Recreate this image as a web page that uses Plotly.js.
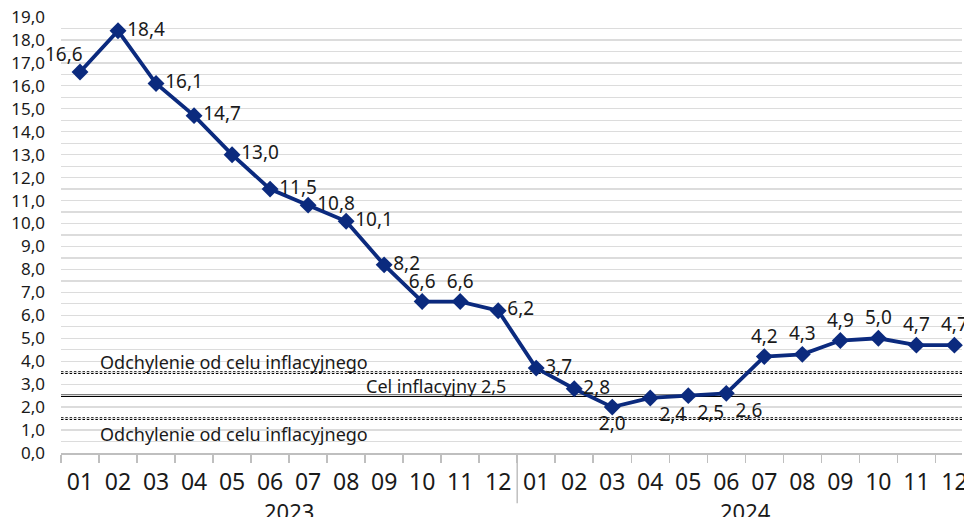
<!DOCTYPE html>
<html>
<head>
<meta charset="utf-8">
<script src="https://cdn.plot.ly/plotly-3.0.1.min.js"></script>
<style>html,body{margin:0;padding:0;background:#fff;} #chart{width:964px;height:517px;}</style>
</head>
<body>
<div id="chart"></div>
<script>
const years = ["2023","2024"];
const months = ["01","02","03","04","05","06","07","08","09","10","11","12",
                "01","02","03","04","05","06","07","08","09","10","11","12"];
const inflation = [16.6,18.4,16.1,14.7,13.0,11.5,10.8,10.1,8.2,6.6,6.6,6.2,
                   3.7,2.8,2.0,2.4,2.5,2.6,4.2,4.3,4.9,5.0,4.7,4.7];
const target = 2.5;
const upperBand = 3.5;
const lowerBand = 1.5;
const bandLabel = "Odchylenie od celu inflacyjnego";
const targetLabel = "Cel inflacyjny 2,5";

// category keys: year-month
const categories = months.map((m, i) => years[Math.floor(i / 12)] + "-" + m);
const fmt = v => v.toFixed(1).replace(".", ",");

// first label is drawn as an annotation (offset up-left of its point)
const labelPositions = ["top left","middle right","middle right","middle right","middle right","middle right",
  "middle right","middle right","middle right","top center","top center","middle right",
  "middle right","middle right","bottom center","bottom right","bottom right","bottom right",
  "top center","top center","top center","top center","top center","top center"];

const navy = "#0b2a7e";
const font = "Noto Sans, Open Sans, sans-serif";
const txt = "#1a1a1a";

const trace = {
  type: "scatter",
  mode: "lines+markers+text",
  x: categories,
  y: inflation,
  text: inflation.map((v, i) => i === 0 ? "" : fmt(v)),
  textposition: labelPositions,
  textfont: {family: font, size: 19, color: txt},
  line: {color: navy, width: 3.8},
  marker: {symbol: "diamond", size: 13, color: navy},
  hoverinfo: "skip",
  cliponaxis: false
};

const hline = (y, dash, w) => ({
  type: "line", xref: "paper", yref: "y", x0: 0, x1: 1, y0: y, y1: y,
  line: {color: "#000", width: w, dash: dash}, layer: "between"
});

const layout = {
  width: 964, height: 517,
  margin: {l: 61, r: 2, t: 17, b: 64},
  paper_bgcolor: "#fff", plot_bgcolor: "#fff",
  showlegend: false,
  separators: ",.",
  font: {family: font, color: txt},
  xaxis: {
    type: "category",
    range: [-0.5, 23.2],
    tickvals: categories,
    ticktext: months,
    showgrid: false,
    showline: true, linecolor: "#bfbfbf", linewidth: 1.5,
    ticks: "outside", ticklen: 8, tickcolor: "#bfbfbf", tickwidth: 1.5,
    tickson: "boundaries",
    ticklabelstandoff: 8,
    tickfont: {family: font, size: 23, color: txt},
    zeroline: false
  },
  yaxis: {
    range: [0, 19],
    dtick: 1,
    tickformat: ".1f",
    showgrid: true, gridcolor: "#dcdcdc", gridwidth: 1.3,
    minor: {dtick: 0.5, showgrid: true, gridcolor: "#dcdcdc", gridwidth: 1.3, ticks: ""},
    zeroline: false,
    showline: false,
    ticks: "", ticklen: 0,
    ticklabelstandoff: 15,
    tickfont: {family: font, size: 17, color: txt}
  },
  shapes: [
    hline(upperBand, "2.5px,1.8px", 2.8), hline(target, "solid", 2.5), hline(lowerBand, "2.5px,1.8px", 2.8),
    {type: "line", xref: "x", yref: "paper", x0: 11.5, x1: 11.5, y0: 0, y1: -0.115,
     line: {color: "#bfbfbf", width: 1.5}}
  ],
  annotations: [
    {xref: "x", yref: "y", x: categories[0], y: inflation[0], xshift: -16, yshift: 18,
     xanchor: "center", yanchor: "middle", text: fmt(inflation[0]), showarrow: false,
     font: {family: font, size: 19, color: txt}},
    {xref: "paper", yref: "y", x: 0.041, y: upperBand + 0.47, xanchor: "left", yanchor: "middle",
     text: bandLabel, showarrow: false, font: {family: font, size: 18, color: txt}},
    {xref: "paper", yref: "y", x: 0.496, y: target + 0.42, xanchor: "right", yanchor: "middle",
     text: targetLabel, showarrow: false, font: {family: font, size: 18, color: txt}},
    {xref: "paper", yref: "y", x: 0.041, y: lowerBand - 0.67, xanchor: "left", yanchor: "middle",
     text: bandLabel, showarrow: false, font: {family: font, size: 18, color: txt}},
    {xref: "x", yref: "paper", x: 5.5, y: -0.094, xanchor: "center", yanchor: "top",
     text: years[0], showarrow: false, font: {family: font, size: 22, color: txt}},
    {xref: "x", yref: "paper", x: 17.5, y: -0.094, xanchor: "center", yanchor: "top",
     text: years[1], showarrow: false, font: {family: font, size: 22, color: txt}}
  ]
};

Plotly.newPlot("chart", [trace], layout, {displayModeBar: false, staticPlot: true});
</script>
</body>
</html>
